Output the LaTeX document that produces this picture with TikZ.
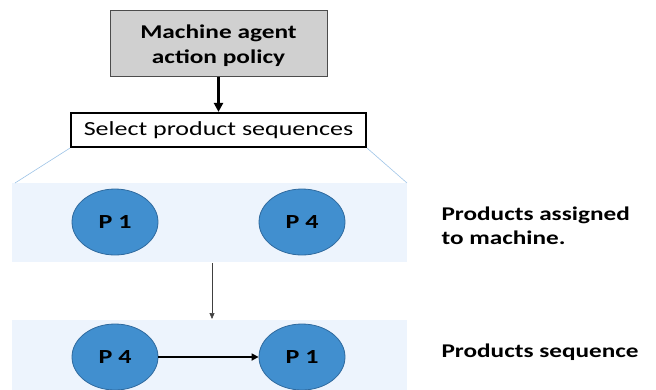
\documentclass[tikz,border=0pt]{standalone}
\usepackage{fontspec}
\setmainfont{Carlito}[FakeStretch=1.3]
\usetikzlibrary{arrows.meta,shapes.geometric}
\definecolor{bandblue}{HTML}{EDF4FD}
\definecolor{ellfill}{HTML}{418FCF}
\definecolor{elldraw}{HTML}{2F6A9E}
\definecolor{policygray}{HTML}{D0D0D0}
\definecolor{zoomline}{HTML}{9DC3E6}
\tikzset{
  prod/.style={ellipse, draw=elldraw, line width=0.8pt, fill=ellfill, minimum width=86pt, minimum height=66pt, inner sep=0pt, font=\fontsize{20}{24}\selectfont\bfseries},
  band/.style={fill=bandblue, draw=none},
  label/.style={anchor=west, align=left, font=\fontsize{19.4}{24}\selectfont\bfseries}
}
\begin{document}
\begin{tikzpicture}[x=1pt,y=-1pt]
\useasboundingbox (0,0) rectangle (656,389);
\begin{scope}
\clip (0,0) rectangle (656,389);
% bands
\fill[band] (12,183) rectangle (407,262);
\fill[band] (12,320) rectangle (407,395);
% policy box
\node[draw=black!70, line width=1pt, fill=policygray, minimum width=217pt, minimum height=66pt, inner sep=0pt] (policy) at (218.5,43) {};
\node[align=center, font=\fontsize{19.5}{25}\selectfont\bfseries, inner sep=0pt] (policytext) at (218.5,45.5) {Machine agent\\action policy};
\node[draw=black, line width=2.2pt, fill=white, minimum width=295pt, minimum height=34pt, font=\fontsize{20}{24}\selectfont, inner sep=0pt] (select) at (218.5,130) {Select product sequences};
\draw[-{Triangle[length=9pt,width=9pt]}, line width=2.5pt] (policy.south) -- (select.north);
\coordinate (b1l) at (15,183);
\coordinate (b1r) at (407,183);
\draw[zoomline, line width=0.6pt] (select.south west) -- (b1l);
\draw[zoomline, line width=0.6pt] (select.south east) -- (b1r);
% top ellipses
\node[prod] (p1a) at (115,222) {P 1};
\node[prod] (p4a) at (302,222) {P 4};
% bottom ellipses
\node[prod] (p4b) at (115,357) {P 4};
\node[prod] (p1b) at (302,357) {P 1};
\coordinate (d1) at (212,263);
\coordinate (d2) at (212,319);
\draw[-{Triangle[length=6pt,width=5pt]}, black!75, line width=0.6pt] (d1) -- (d2);
\draw[-{Triangle[length=7pt,width=7pt]}, line width=1.6pt] (p4b) -- (p1b);
\node[label] (t1) at (438,226) {Products assigned\\to machine.};
\node[label] (t2) at (438,352) {Products sequence};
\end{scope}
\end{tikzpicture}
\end{document}
